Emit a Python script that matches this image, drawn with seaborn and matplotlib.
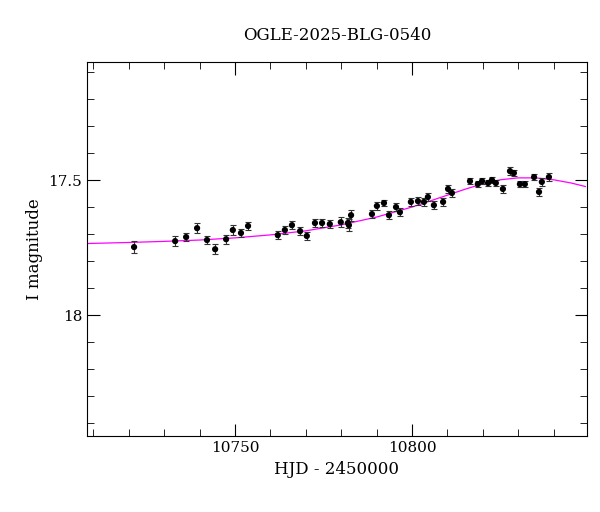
import matplotlib
matplotlib.use("Agg")
import matplotlib.pyplot as plt
from matplotlib.ticker import MultipleLocator, FuncFormatter
import numpy as np
import pandas as pd
import seaborn as sns

# observations
hjd = [10721.5, 10733.1, 10736.2, 10739.3, 10742.1, 10744.4, 10747.5, 10749.4, 10751.7, 10753.7,
       10762.1, 10764.1, 10766.1, 10768.4, 10770.3, 10772.6, 10774.6, 10776.8, 10779.9, 10781.9,
       10782.2, 10782.8, 10788.7, 10790.1, 10792.1, 10793.5, 10795.5, 10796.6, 10799.7, 10801.7,
       10803.4, 10804.5, 10806.2, 10808.8, 10810.2, 10811.3, 10816.4, 10818.6, 10819.8, 10821.5,
       10822.6, 10823.7, 10825.7, 10827.7, 10828.8, 10830.5, 10831.9, 10834.5, 10835.9, 10836.7,
       10838.7]
mag = [17.748, 17.726, 17.711, 17.678, 17.722, 17.756, 17.719, 17.685, 17.696, 17.670,
       17.704, 17.685, 17.667, 17.689, 17.707, 17.659, 17.659, 17.663, 17.656, 17.659,
       17.667, 17.630, 17.626, 17.596, 17.585, 17.630, 17.600, 17.619, 17.581, 17.578,
       17.581, 17.563, 17.593, 17.581, 17.533, 17.548, 17.504, 17.515, 17.504, 17.511,
       17.500, 17.511, 17.533, 17.467, 17.474, 17.515, 17.515, 17.489, 17.544, 17.507,
       17.489]
err = [0.022, 0.018, 0.016, 0.018, 0.016, 0.018, 0.016, 0.018, 0.014, 0.016,
       0.016, 0.016, 0.014, 0.016, 0.016, 0.014, 0.014, 0.016, 0.018, 0.020,
       0.022, 0.020, 0.016, 0.014, 0.012, 0.014, 0.014, 0.014, 0.014, 0.014,
       0.014, 0.014, 0.014, 0.016, 0.014, 0.014, 0.012, 0.012, 0.012, 0.012,
       0.012, 0.012, 0.014, 0.014, 0.012, 0.012, 0.012, 0.012, 0.016, 0.016,
       0.014]

# model curve
model_hjd = [10708, 10720, 10730, 10740, 10750, 10760, 10770, 10780, 10790, 10800,
             10810, 10815, 10820, 10825, 10830, 10835, 10840, 10845, 10849]
model_mag = [17.735, 17.731, 17.727, 17.722, 17.714, 17.703, 17.688, 17.666, 17.637, 17.600,
             17.556, 17.534, 17.514, 17.499, 17.492, 17.492, 17.499, 17.511, 17.524]

plt.rcParams["font.family"] = "DejaVu Serif"
fig, ax = plt.subplots(figsize=(6, 5.12), dpi=100)

sns.lineplot(x=model_hjd, y=model_mag, ax=ax, color="magenta", lw=0.9)
ax.errorbar(hjd, mag, yerr=err, fmt="none", ecolor="#333333", elinewidth=0.8, capsize=2, capthick=0.8)
sns.scatterplot(x=hjd, y=mag, ax=ax, color="black", s=20, edgecolor="none", zorder=3)

ax.set_xlim(10708.2, 10849.4)
ax.set_ylim(18.448, 17.063)
ax.xaxis.set_major_locator(MultipleLocator(50))
ax.xaxis.set_minor_locator(MultipleLocator(10))
ax.yaxis.set_major_locator(MultipleLocator(0.5))
ax.yaxis.set_minor_locator(MultipleLocator(0.1))
ax.yaxis.set_major_formatter(FuncFormatter(lambda v, p: f"{v:g}"))
ax.tick_params(which="both", direction="in", top=True, right=True, labelsize=11)
ax.tick_params(which="major", length=9)
ax.tick_params(which="minor", length=5)

ax.set_xlabel("HJD - 2450000", fontsize=12)
ax.set_ylabel("I magnitude", fontsize=12)
ax.set_title("OGLE-2025-BLG-0540", fontsize=12, pad=16)

fig.subplots_adjust(left=0.145, right=0.978, top=0.879, bottom=0.148)
fig.savefig("out.png", dpi=100)
